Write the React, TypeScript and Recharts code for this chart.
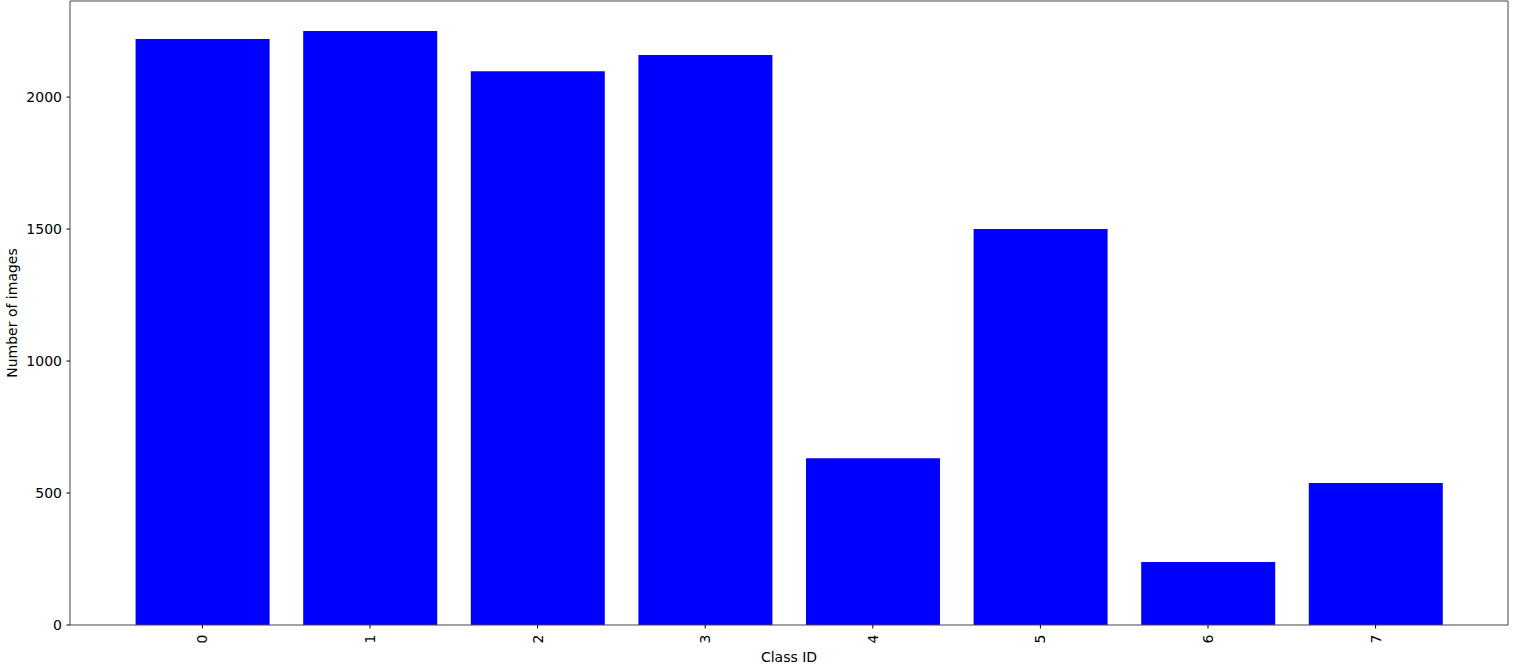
import { BarChart, Bar, XAxis, YAxis } from 'recharts'

const CLASS_IDS = [0, 1, 2, 3, 4, 5, 6, 7]
const IMAGE_COUNTS = [2220, 2250, 2098, 2159, 632, 1500, 239, 538]
const Y_TICKS = [0, 500, 1000, 1500, 2000]

const data = CLASS_IDS.map((id, i) => ({ classId: id, count: IMAGE_COUNTS[i] }))

const FONT = '"DejaVu Sans", sans-serif'
const FRAME = '#444'

function RotatedTick(props: any) {
  const { x, y, payload } = props
  const ty = y + 4
  return (
    <text
      x={x}
      y={ty}
      transform={`rotate(-90, ${x}, ${ty})`}
      textAnchor="end"
      dominantBaseline="central"
      fontSize={14}
      fontFamily={FONT}
      fill="#000"
    >
      {payload.value}
    </text>
  )
}

export default function App() {
  return (
    <div style={{ position: 'absolute', left: 0, top: 0, background: '#fff' }}>
      <BarChart
        width={1520}
        height={670}
        data={data}
        margin={{ top: 0, right: 11, bottom: 0, left: 0 }}
      >
        <XAxis
          dataKey="classId"
          type="number"
          domain={[-0.79, 7.79]}
          ticks={CLASS_IDS}
          interval={0}
          allowDataOverflow
          height={45}
          stroke={FRAME}
          tickLine={{ stroke: '#000' }}
          tickSize={3.5}
          tick={<RotatedTick />}
          label={{
            value: 'Class ID',
            position: 'insideBottom',
            offset: 8,
            fontSize: 14,
            fontFamily: FONT,
            fill: '#000',
          }}
        />
        <XAxis
          xAxisId="top"
          orientation="top"
          dataKey="classId"
          type="number"
          domain={[-0.79, 7.79]}
          allowDataOverflow
          height={1}
          tick={false}
          tickLine={false}
          stroke={FRAME}
        />
        <YAxis
          type="number"
          domain={[0, 2364]}
          ticks={Y_TICKS}
          interval={0}
          allowDataOverflow
          width={70}
          stroke={FRAME}
          tickLine={{ stroke: '#000' }}
          tickSize={3.5}
          tickMargin={4.5}
          tick={{ fontSize: 14, fontFamily: FONT, fill: '#000' }}
          label={{
            value: 'Number of images',
            angle: -90,
            position: 'insideLeft',
            offset: 12,
            style: { textAnchor: 'middle' },
            fontSize: 14,
            fontFamily: FONT,
            fill: '#000',
          }}
        />
        <YAxis
          yAxisId="right"
          orientation="right"
          type="number"
          domain={[0, 2364]}
          allowDataOverflow
          width={1}
          tick={false}
          tickLine={false}
          stroke={FRAME}
        />
        <Bar dataKey="count" fill="#0000ff" barSize={134} isAnimationActive={false} />
      </BarChart>
    </div>
  )
}
